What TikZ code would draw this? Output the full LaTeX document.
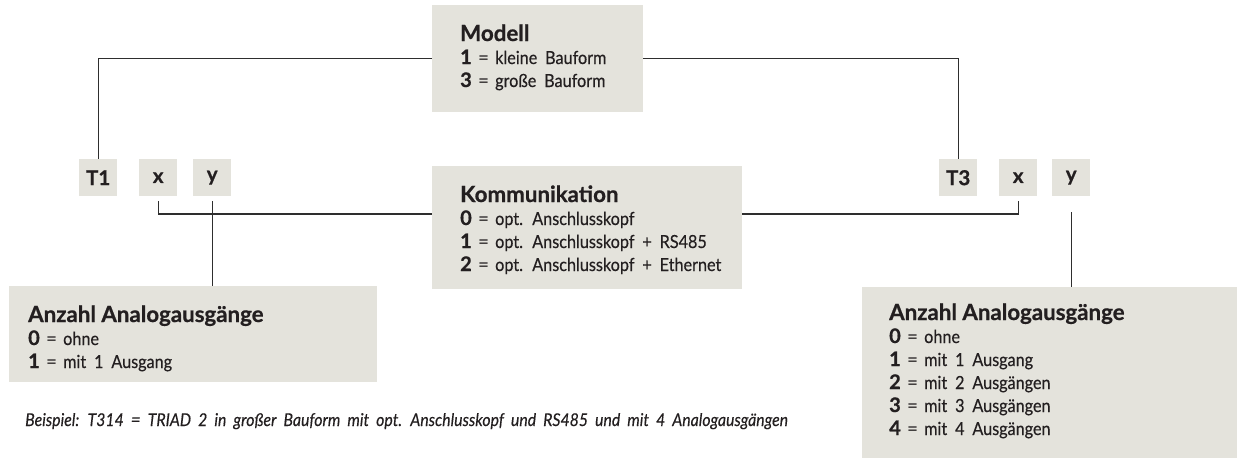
\documentclass[tikz,border=0pt]{standalone}
\usepackage{fontspec}
\setmainfont{Lato}[BoldFeatures={FakeBold=0.7}]
\newfontfamily\condfont{Lato}[FakeStretch=0.9, WordSpace=1.9, FakeBold=0.35]
\definecolor{boxfill}{HTML}{E4E3DC}
\definecolor{ink}{HTML}{231F20}
\definecolor{linec}{HTML}{2E2E2E}
\newcommand\titlef{\bfseries\fontsize{22.3}{23}\selectfont}
\newcommand\optline[2]{\makebox[18pt][l]{\bfseries\fontsize{20}{23}\selectfont #1}\makebox[17pt][l]{\fontsize{19}{23}\selectfont =}{\condfont #2}}
\begin{document}
\begin{tikzpicture}[x=1pt,y=-1pt,
  font=\fontsize{18}{23}\selectfont, text=ink,
  box/.style={fill=boxfill, draw=none, inner sep=0pt, anchor=north west},
  tag/.style={box, minimum width=38pt, minimum height=37pt, font=\bfseries\fontsize{20.5}{23}\selectfont},
  txt/.style={anchor=base west, inner sep=0pt},
  conn/.style={draw=linec, line width=1.1pt}]
\useasboundingbox (0,0) rectangle (1241,458);

% boxes
\node[box, minimum width=211pt, minimum height=107pt] (modell) at (432,5) {};
\node[box, minimum width=310pt, minimum height=123pt] (komm) at (432,166) {};
\node[box, minimum width=368pt, minimum height=96pt] (anzL) at (9,286) {};
\node[box, minimum width=375pt, minimum height=171pt] (anzR) at (862,287) {};

\node[tag] (t1) at (79,159) {T1};
\node[tag] (xa) at (139,159) {x};
\node[tag] (ya) at (193,159) {y};
\node[tag] (t3) at (939,159) {T3};
\node[tag] (xb) at (999,159) {x};
\node[tag] (yb) at (1052,159) {y};

% texts
\node[txt] (modelltxt) at (460,41) {\begin{tabular}[t]{@{}l@{}}{\titlef Modell}\\
  \optline{1}{kleine Bauform}\\ \optline{3}{große Bauform}\end{tabular}};
\node[txt] (kommtxt) at (460,202) {\begin{tabular}[t]{@{}l@{}}{\titlef Kommunikation}\\
  \optline{0}{opt. Anschlusskopf}\\ \optline{1}{opt. Anschlusskopf + RS485}\\
  \optline{2}{opt. Anschlusskopf + Ethernet}\end{tabular}};
\node[txt] (anzLtxt) at (28,322) {\begin{tabular}[t]{@{}l@{}}{\titlef Anzahl Analogausgänge}\\
  \optline{0}{ohne}\\ \optline{1}{mit 1 Ausgang}\end{tabular}};
\node[txt] (anzRtxt) at (889,320) {\begin{tabular}[t]{@{}l@{}}{\titlef Anzahl Analogausgänge}\\
  \optline{0}{ohne}\\ \optline{1}{mit 1 Ausgang}\\ \optline{2}{mit 2 Ausgängen}\\
  \optline{3}{mit 3 Ausgängen}\\ \optline{4}{mit 4 Ausgängen}\end{tabular}};
\node[txt] (bsp) at (25,426) {\fontsize{17.6}{23}\selectfont\condfont\itshape Beispiel: T314 {\fontsize{19}{23}\selectfont =} TRIAD 2 in großer Bauform mit opt. Anschlusskopf und RS485 und mit 4 Analogausgängen};

% connectors
\draw[conn] (modell.west) -| (t1.north);
\draw[conn] (modell.east) -| (t3.north);
\draw[conn] ([yshift=-5pt]xa.south) |- (komm.west |- 0,214);
\draw[conn] ([yshift=-5pt]xb.south) |- (komm.east |- 0,214);
\draw[conn] ([yshift=-5pt]ya.south) -- (ya.south |- anzL.north);
\draw[conn] ([yshift=-16pt]yb.south) -- (yb.south |- anzR.north);
\end{tikzpicture}
\end{document}
